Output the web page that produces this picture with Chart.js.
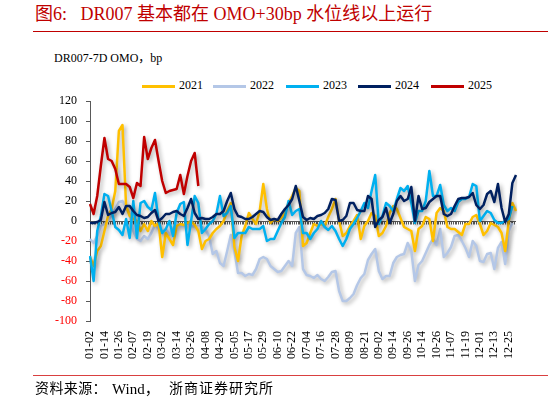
<!DOCTYPE html>
<html>
<head>
<meta charset="utf-8">
<script src="https://cdn.jsdelivr.net/npm/chart.js@4.4.1/dist/chart.umd.min.js"></script>
<style>
  body { margin: 0; width: 548px; height: 401px; position: relative; background: #fff; overflow: hidden;
         font-family: 'Liberation Serif', 'Noto Sans CJK SC', serif; }
  .abs { position: absolute; white-space: nowrap; }
  #title { left: 35px; top: 5px; font-size: 18px; line-height: 18px; color: #C00000; }
  .rule { position: absolute; left: 33px; width: 515px; height: 1px; background: #C00000; }
  #ytitle { left: 54px; top: 48px; font-size: 12px; color: #000; }
  .src { position: absolute; top: 382px; font-size: 14px; line-height: 14px; color: #000; white-space: nowrap; }
  .leg { position: absolute; top: 78px; font-size: 12px; color: #000; }
  .leg i { position: absolute; top: 7px; height: 3px; width: 33px; }
  canvas { position: absolute; left: 0; top: 0; }
</style>
</head>
<body>
<div id="title" class="abs">图6:&nbsp;&nbsp;&nbsp;DR007 基本都在 OMO+30bp 水位线以上运行</div>
<div class="rule" style="top:31px"></div>
<div id="ytitle" class="abs">DR007-7D OMO，bp</div>
<div id="legend"></div>
<canvas id="chart" width="548" height="401"></canvas>
<div class="rule" style="top:375px;background:#D94040"></div>
<span class="src" style="left:35px;letter-spacing:0.4px">资料来源：</span>
<span class="src" style="left:112px;font-size:15px">Wind，</span>
<span class="src" style="left:169px;letter-spacing:1px">浙商证券研究所</span>

<script>
// tick labels shown on the x axis, one every 4 points
const tickLabels = ['01-02', '01-14', '01-26', '02-07', '02-19', '03-02', '03-14', '03-26', '04-08', '04-20',
    '05-05', '05-17', '05-29', '06-10', '06-22', '07-04', '07-16', '07-28', '08-09', '08-21',
    '09-02', '09-14', '09-26', '10-14', '10-26', '11-07', '11-19', '12-01', '12-13', '12-25'];
const pointCount = 119;
const labelEvery = 4;

// DR007 minus 7D OMO, bp
const y2021 = [-36, -45, -30, -25, -10, 5, 12, 30, 90, 96, 15, 5, 2, 0, -10, -3, -10, 0, -5, -2,
    -36, -12, -18, -24, -5, -3, -4, -2, 0, -4, -10, -28, -20, -18, -12, -8, -5, 0, 10, 18,
    -26, -40, -15, -5, 8, 2, -3, 10, 37, 12, -2, 2, 0, 3, 8, 18, 25, 33, 30, -25,
    -22, -12, -3, -5, -3, -5, 4, 12, 22, 0, -15, -12, -5, 0, 6, -18, -5, 0, 8, 5,
    -15, -12, -5, 8, 15, 12, 3, -6, -8, -10, -30, -8, -5, 4, 2, -20, 8, 13, 10, -6,
    -8, -8, -11, -14, -3, -3, 4, 6, -3, -14, -10, -2, -4, -6, -12, -30, 0, 18, 10];
const y2022 = [-18, -22, -15, -5, -3, 0, 6, 12, 19, 20, 13, 7, -10, -18, -20, -15, -18, -12, -4, -8,
    -12, -8, -14, -8, -2, -5, -5, -2, -5, -6, -4, -6, -9, -15, -33, -30, -42, -45, -30, -14,
    -30, -52, -52, -55, -53, -54, -48, -38, -36, -38, -45, -48, -51, -50, -45, -40, -45, -12, -6, -48,
    -54, -55, -57, -54, -58, -60, -56, -51, -50, -70, -80, -80, -77, -73, -64, -57, -53, -39, -33, -28,
    -50, -58, -55, -55, -42, -36, -34, -33, -22, -30, -60, -44, -40, -32, -24, -18, -24, -8, -36, -32,
    -26, -15, -14, -20, -27, -36, -20, -25, -40, -41, -33, -32, -48, -27, -21, -43, -10, -2];
const y2023 = [-35, -60, -10, 5, 27, 25, 10, -6, -9, -14, 2, -17, 20, -17, 18, 20, 14, 11, 28, 0,
    -12, -8, 0, -15, 8, 17, 19, -24, 0, 25, 18, -12, -8, -3, 0, 7, 25, 5, 8, 15,
    -17, -12, -12, -12, -6, -8, -8, -8, -5, -20, -18, -18, -10, -2, 4, 20, 6, 10, 12, -12,
    -12, -18, -12, -8, 0, -6, -9, -5, -10, -18, -25, -18, -8, -3, 3, 10, 18, 13, 30, 46,
    -3, 5, 18, 15, 10, 22, 33, 30, 35, 18, -2, 10, 10, 20, 50, 25, 25, 36, 16, 10,
    13, 10, 19, 22, 22, 24, 37, 35, 0, 5, 10, 8, 1, -2, -2, 0, 2, 15];
const y2024 = [-2, -2, -1, 1, 19, 6, 8, 9, 14, 7, 15, 15, 10, 6, 5, 3, 4, 8, 11, 0,
    3, 7, 7, 9, 10, 7, 5, 13, 22, 8, 2, 3, 2, 2, 4, 7, 7, 10, 20, 28,
    12, 5, 4, 2, 2, 4, 7, 10, 9, 4, 1, 2, 1, 7, 12, 16, 22, 35, 20, 4,
    1, 3, 2, 5, 6, 8, 12, 22, 21, 0, 1, 5, 18, 18, 11, 10, 10, 25, 22, -6,
    1, 4, 13, -2, 7, 20, 25, 20, 22, 34, 0, 25, 12, 13, 19, 22, 25, 25, 7, 5,
    7, 15, 22, 23, 23, 24, 28, 16, 12, 16, 27, 30, 19, 37, 13, -1, 7, 38, 46];
const y2025 = [17, 7, 25, 55, 83, 62, 60, 52, 37, 37, 37, 34, 23, 38, 35, 84, 62, 73, 81, 60,
    40, 28, 30, 31, 32, 46, 27, 45, 60, 68, 35];

const seriesNames = ['2021', '2022', '2023', '2024', '2025'];
const seriesData = [y2021, y2022, y2023, y2024, y2025];
const seriesColors = ['#FFC000', '#B4C7E7', '#00B0F0', '#002060', '#C00000'];
const drawOrder = [4, 5, 3, 2, 1];

const categories = [];
for (let i = 0; i < pointCount; i++) {
    categories.push(i % labelEvery === 0 ? tickLabels[i / labelEvery] : '');
}

// html legend
const legendPos = [142, 213, 286, 358, 431];
const legend = document.getElementById('legend');
seriesNames.forEach((name, k) => {
    const item = document.createElement('div');
    item.className = 'leg';
    item.style.left = legendPos[k] + 'px';
    item.innerHTML = '<i style="left:0;background:' + seriesColors[k] + '"></i>' +
        '<span style="margin-left:37px">' + name + '</span>';
    legend.appendChild(item);
});

// soft shadow under each line
const shadowPlugin = {
    id: 'lineShadow',
    beforeDatasetDraw(chart) {
        const ctx = chart.ctx;
        ctx.save();
        ctx.shadowColor = 'rgba(0,0,0,0.32)';
        ctx.shadowBlur = 4;
        ctx.shadowOffsetX = 2;
        ctx.shadowOffsetY = 2;
    },
    afterDatasetDraw(chart) {
        chart.ctx.restore();
    }
};

// horizontal axis crossing at zero, with small dense ticks
const zeroAxisPlugin = {
    id: 'zeroAxis',
    beforeDatasetsDraw(chart) {
        const ctx = chart.ctx;
        const x = chart.scales.x;
        const y0 = Math.round(chart.scales.y.getPixelForValue(0)) + 0.5;
        ctx.save();
        ctx.strokeStyle = '#595959';
        ctx.lineWidth = 1;
        ctx.beginPath();
        ctx.moveTo(x.left, y0);
        ctx.lineTo(x.right, y0);
        for (let i = 0; i < pointCount - 1; i += 0.5) {
            const px = Math.round(x.getPixelForValue(i)) + 0.5;
            ctx.moveTo(px, y0);
            ctx.lineTo(px, y0 + 3);
        }
        ctx.stroke();
        ctx.restore();
    }
};

new Chart(document.getElementById('chart'), {
    type: 'line',
    data: {
        labels: categories,
        datasets: seriesNames.map((name, k) => ({
            label: name,
            data: seriesData[k],
            borderColor: seriesColors[k],
            backgroundColor: seriesColors[k],
            borderWidth: 2.5,
            pointRadius: 0,
            tension: 0,
            borderJoinStyle: 'round',
            fill: false,
            order: drawOrder[k]
        }))
    },
    options: {
        responsive: false,
        animation: false,
        layout: { padding: { left: 0, top: 101, right: 32, bottom: 28 } },
        plugins: {
            legend: { display: false },
            tooltip: { enabled: false }
        },
        scales: {
            x: {
                offset: false,
                grid: { display: false },
                border: { display: false },
                ticks: {
                    autoSkip: false,
                    minRotation: 90,
                    maxRotation: 90,
                    padding: 2,
                    color: '#000',
                    font: { family: "'Liberation Serif', serif", size: 12 },
                    callback: (v, i) => categories[i]
                },
                afterFit: (s) => { s.height = 52; }
            },
            y: {
                min: -100,
                max: 120,
                ticks: {
                    stepSize: 20,
                    padding: 9,
                    color: (c) => c.tick.value < 0 ? '#FF0000' : '#000',
                    font: { family: "'Liberation Serif', serif", size: 12 }
                },
                grid: { drawOnChartArea: false, drawTicks: true, tickLength: 4, color: '#595959' },
                border: { display: true, color: '#595959', width: 1 },
                afterFit: (s) => { s.width = 90; }
            }
        }
    },
    plugins: [shadowPlugin, zeroAxisPlugin]
});
</script>
</body>
</html>
